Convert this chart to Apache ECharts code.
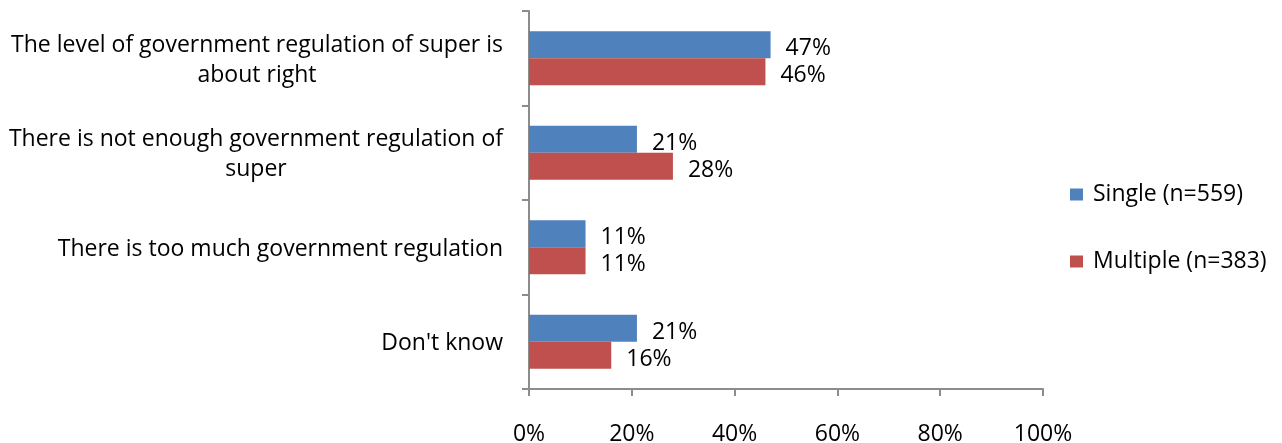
<!DOCTYPE html>
<html>
<head>
<meta charset="utf-8">
<script src="https://cdn.jsdelivr.net/npm/echarts@6/dist/echarts.min.js"></script>
<style>
  html, body { margin: 0; padding: 0; background: #ffffff; }
  #chart { width: 1282px; height: 443px; }
</style>
</head>
<body>
<div id="chart"></div>
<script>
// Survey responses on government regulation of super, by fund holding
const categories = [
  'The level of government regulation of super is\nabout right',
  'There is not enough government regulation of\nsuper',
  'There is too much government regulation',
  "Don't know"
];
const singleValues = [47, 21, 11, 21];
const multipleValues = [46, 28, 11, 16];
const seriesNames = ['Single (n=559)', 'Multiple (n=383)'];
const xTicks = [0, 20, 40, 60, 80, 100];

const FONT = '"Open Sans", Lato, sans-serif';
const FS = 23;
const axisGray = '#8c8c8c';

const chart = echarts.init(document.getElementById('chart'));

function labelStyle() {
  return {
    show: true,
    position: 'right',
    distance: 15,
    offset: [0, 4],
    formatter: p => p.value + '%',
    color: '#000',
    fontFamily: FONT,
    fontSize: FS
  };
}

chart.setOption({
  animation: false,
  textStyle: { fontFamily: FONT },
  grid: { left: 529, right: 239, top: 11, bottom: 54, containLabel: false, outerBoundsMode: 'none' },
  legend: {
    orient: 'vertical',
    left: 1065,
    top: 178,
    itemWidth: 13,
    itemHeight: 12,
    itemGap: 44,
    icon: 'rect',
    textStyle: { fontFamily: FONT, fontSize: FS, color: '#000', padding: [0, 0, 0, 5] },
    data: seriesNames
  },
  xAxis: {
    type: 'value',
    min: xTicks[0],
    max: xTicks[xTicks.length - 1],
    interval: 20,
    splitLine: { show: false },
    axisLine: { show: true, lineStyle: { color: axisGray, width: 2 } },
    axisTick: { show: true, length: 7, lineStyle: { color: axisGray, width: 2 } },
    axisLabel: {
      margin: 34,
      formatter: v => v + '%',
      color: '#000',
      fontFamily: FONT,
      fontSize: FS
    }
  },
  yAxis: {
    type: 'category',
    inverse: true,
    data: categories,
    axisLine: { show: true, lineStyle: { color: axisGray, width: 2 } },
    axisTick: { show: true, length: 7, lineStyle: { color: axisGray, width: 2 } },
    axisLabel: {
      margin: 26,
      lineHeight: 30,
      padding: [4, 0, 0, 0],
      formatter: v => v.split('\n').map(s => '{c|' + s + '}').join('\n'),
      rich: {
        c: { align: 'center', color: '#000', fontFamily: FONT, fontSize: FS, lineHeight: 30 }
      }
    }
  },
  series: [
    {
      name: seriesNames[0],
      type: 'bar',
      data: singleValues,
      barGap: '0%',
      barCategoryGap: '43%',
      itemStyle: { color: '#4f81bd' },
      label: labelStyle()
    },
    {
      name: seriesNames[1],
      type: 'bar',
      data: multipleValues,
      barGap: '0%',
      barCategoryGap: '43%',
      itemStyle: { color: '#c0504d' },
      label: labelStyle()
    }
  ]
});
</script>
</body>
</html>
